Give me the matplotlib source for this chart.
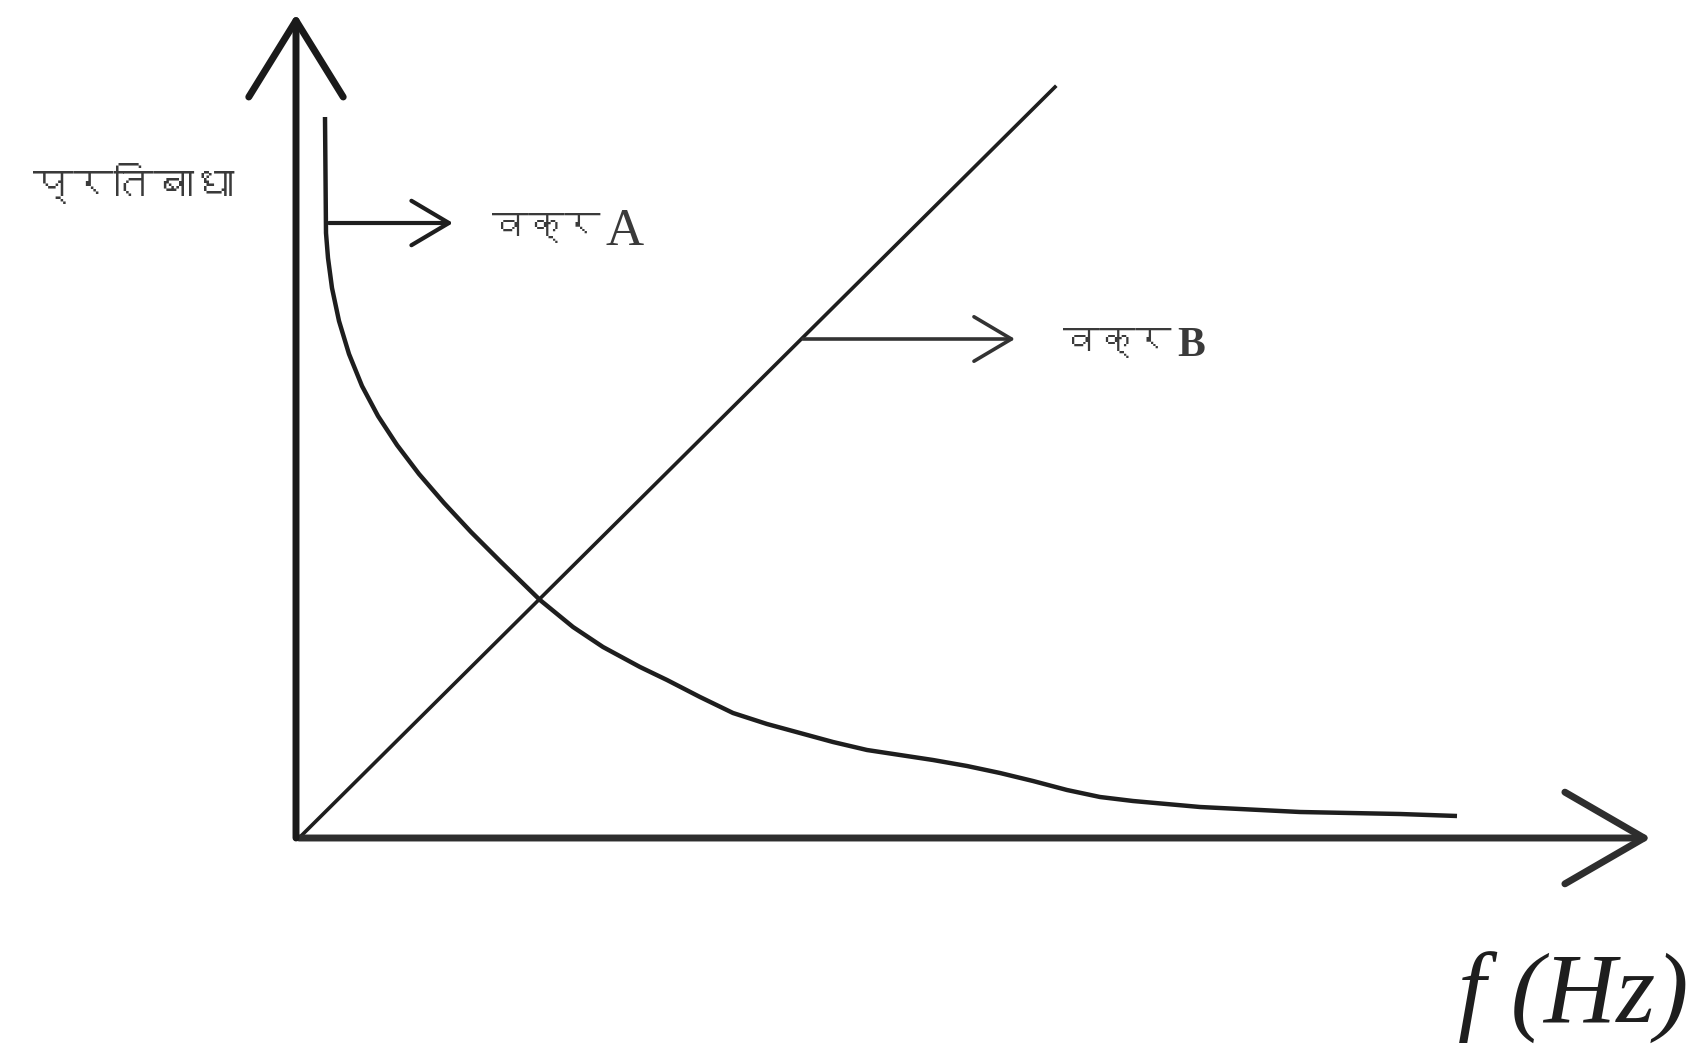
import matplotlib
matplotlib.use('Agg')
from matplotlib import pyplot as plt
from matplotlib import font_manager
from matplotlib.ft2font import FT2Font

# curve A: impedance falling with frequency
curve_a_f = [0.26, 0.27, 0.29, 0.33, 0.40, 0.50, 0.63, 0.79, 0.98, 1.20, 1.45,
             1.72, 2.02, 2.41, 2.74, 3.04, 3.41, 3.68, 4.01, 4.34, 4.68, 5.01,
             5.34, 5.68, 6.01, 6.34, 6.68, 7.01, 7.34, 7.68, 8.01, 8.34, 9.01,
             10.01, 11.01, 11.58]
curve_a_z = [7.21, 6.05, 5.80, 5.50, 5.17, 4.84, 4.52, 4.22, 3.93, 3.64, 3.35,
             3.06, 2.76, 2.38, 2.11, 1.91, 1.71, 1.58, 1.41, 1.25, 1.14, 1.05,
             0.96, 0.88, 0.83, 0.78, 0.72, 0.65, 0.57, 0.48, 0.41, 0.37, 0.31,
             0.26, 0.24, 0.22]
# curve B: straight line from the origin
curve_b_f = [0.0, 7.56]
curve_b_z = [0.0, 7.51]

ylabel = 'प्रतिबाधा'
xlabel = 'f (Hz)'
word = 'वक्र'
names = ['A', 'B']


def find_font(ch):
    for fe in font_manager.fontManager.ttflist:
        try:
            if ord(ch) in FT2Font(fe.fname).get_charmap():
                return fe.name
        except Exception:
            pass
    return 'DejaVu Sans'


deva = find_font('क')
ink = '#1e1e1e'
txt = '#3a3a3a'

fig = plt.figure(figsize=(17.06, 10.59), dpi=100)
ax = fig.add_axes([0, 0, 1, 1])
ax.set_xlim(-2.99, 14.07)
ax.set_ylim(-2.21, 8.38)
ax.axis('off')

# axes drawn as open-headed arrows
ax.annotate('', xy=(13.52, 0), xytext=(0, 0),
            arrowprops=dict(arrowstyle='->, head_length=57, head_width=33',
                            lw=5, color='#2e2e2e', mutation_scale=1,
                            shrinkA=0, shrinkB=0))
ax.annotate('', xy=(-0.03, 8.24), xytext=(-0.03, 0),
            arrowprops=dict(arrowstyle='->, head_length=55, head_width=34',
                            lw=5, color='#1a1a1a', mutation_scale=1,
                            shrinkA=0, shrinkB=0))

ax.plot(curve_a_f, curve_a_z, color=ink, lw=3.2, solid_capstyle='butt',
        solid_joinstyle='round')
ax.plot(curve_b_f, curve_b_z, color=ink, lw=2.6)

# pointer arrows to the labels
ax.annotate('', xy=(1.54, 6.15), xytext=(0.30, 6.15),
            arrowprops=dict(arrowstyle='->, head_length=27, head_width=16',
                            lw=3, color=ink, mutation_scale=1,
                            shrinkA=0, shrinkB=0))
ax.annotate('', xy=(7.16, 4.99), xytext=(5.04, 4.99),
            arrowprops=dict(arrowstyle='->, head_length=27, head_width=16',
                            lw=2.6, color='#333333', mutation_scale=1,
                            shrinkA=0, shrinkB=0))

ax.text(1.93, 6.10, word, family=[deva, 'DejaVu Sans'], fontsize=26,
        color=txt, va='center', ha='left', fontweight='bold')
ax.text(3.07, 6.06, names[0], family='Liberation Serif', fontsize=38,
        color=txt, va='center', ha='left')
ax.text(7.64, 4.95, word, family=[deva, 'DejaVu Sans'], fontsize=26,
        color=txt, va='center', ha='left', fontweight='bold')
ax.text(8.78, 4.92, names[1], family='Liberation Serif', fontsize=30,
        color=txt, va='center', ha='left', fontweight='bold')
ax.text(-2.66, 6.55, ylabel, family=[deva, 'DejaVu Sans'], fontsize=29,
        color=txt, va='center', ha='left', fontweight='bold')
ax.text(11.59, -1.60, xlabel, family='Liberation Serif', style='italic',
        fontsize=72, color=ink, va='center', ha='left')

fig.savefig('out.png', dpi=100, facecolor='white')
